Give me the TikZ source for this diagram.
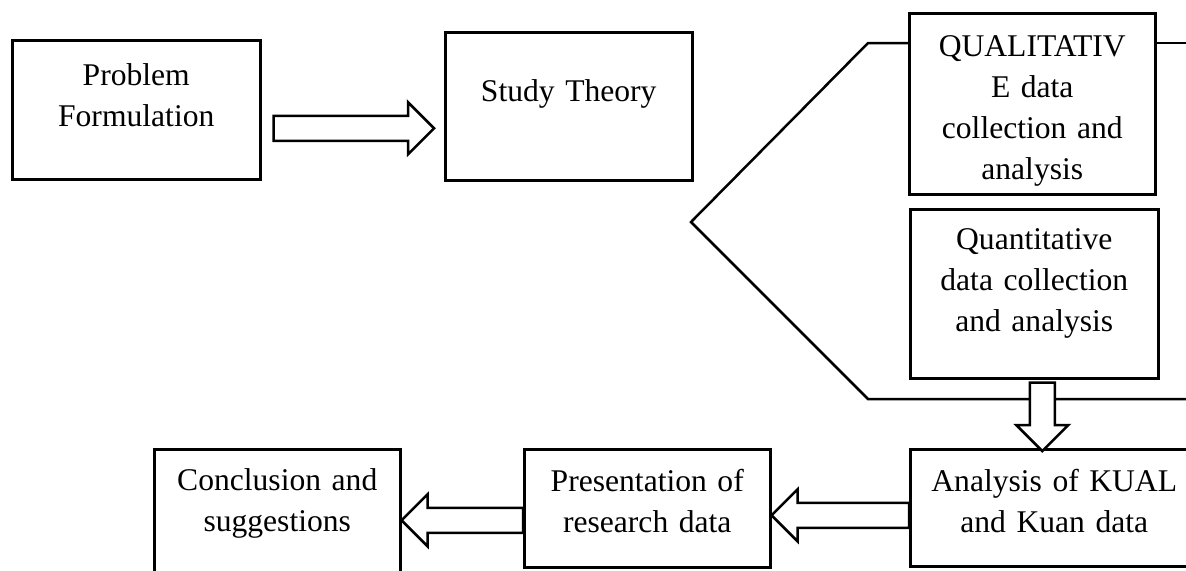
\documentclass[tikz,border=0pt]{standalone}
\usepackage{fontspec}
\setmainfont{Liberation Serif}
\usetikzlibrary{calc}

\begin{document}
\begin{tikzpicture}[x=0.5pt, y=-0.5pt, line width=1.25pt, stage/.style={draw, anchor=north west, inner sep=0pt, align=center, font=\fontsize{15.8}{20.6}\selectfont}, fat/.style={draw, fill=white, to path={($(\tikztostart)!6.25pt!90:(\tikztotarget)$) -- ($($(\tikztotarget)!13pt!(\tikztostart)$)!6.25pt!90:(\tikztotarget)$) -- ($($(\tikztotarget)!13pt!(\tikztostart)$)!13pt!90:(\tikztotarget)$) -- (\tikztotarget) -- ($($(\tikztotarget)!13pt!(\tikztostart)$)!13pt!-90:(\tikztotarget)$) -- ($($(\tikztotarget)!13pt!(\tikztostart)$)!6.25pt!-90:(\tikztotarget)$) -- ($(\tikztostart)!6.25pt!-90:(\tikztotarget)$) -- cycle}}]

\useasboundingbox (0,0) rectangle (1186,570);
\fill[white] (0,0) rectangle (1186,570);
\clip (0,0) rectangle (1186,570);

\node(problem) [stage, text width=124pt, text height=22.5pt, text depth=47pt] at (11,39) {Problem\\Formulation};

\node(theory) [stage, text width=123.5pt, text height=34.5pt, text depth=39.5pt] at (444,31) {Study Theory};

\node(qual) [stage, text width=123pt, text height=21.5pt, text depth=69pt] at (908,12) {QUALITATIV\\E data\\collection and\\analysis};

\node(quant) [stage, text width=124pt, text height=20pt, text depth=64.5pt] at (909,208) {Quantitative\\data collection\\and analysis};

\node(analysis) [stage, text width=144pt, text height=21pt, text depth=37.5pt] at (909,448) {Analysis of KUAL\\and Kuan data};

\node(present) [stage, text width=123pt, text height=21pt, text depth=38pt] at (523,448) {Presentation of\\research data};

\node(concl) [stage, text width=123pt, text height=20.5pt, text depth=44.5pt] at (153,448) {Conclusion and\\suggestions};

\coordinate(apex) at (691,222);
\draw (qual.west |- 0,43) -- (868,43) -- (apex) -- (868,399) -- (1200,399);
\draw (qual.east |- 0,43) -- (1200,43);

\draw[fat] ([shift={(12,18.5)}]problem.east) to ([shift={(-10,22)}]theory.west);
\draw[fat] ([shift={(8,3)}]quant.south) to ([shift={(-12,3)}]analysis.north);
\draw[fat] ([shift={(0,7.5)}]analysis.west) to ([shift={(0,7)}]present.east);
\draw[fat] ([shift={(0,12)}]present.west) to ([shift={(0,6)}]concl.east);
\end{tikzpicture}
\end{document}
